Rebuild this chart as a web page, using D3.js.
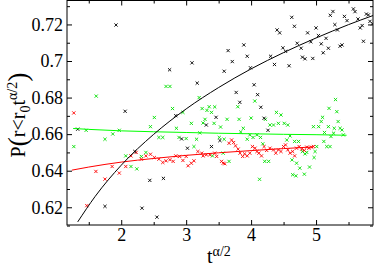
<!DOCTYPE html>
<head>
    <meta charset="utf-8">
    <script src="https://cdn.jsdelivr.net/npm/d3@7"></script>
    <style>
        body { margin: 0; background: #fff; }
        text { font-family: "Liberation Serif", "Times New Roman", serif; }
    </style>
</head>
<body>
<div id="container"></div>
<script>

    // scatter points, [t^(a/2), P]
    const blackPts = [[1.33,0.6627],[1.75,0.6205],[1.92,0.7197],[2.06,0.6725],[2.21,0.6505],[2.32,0.6195],[2.44,0.6347],
        [2.55,0.6146],[2.65,0.6358],[2.745,0.6952],[2.84,0.6701],[2.93,0.6574],[3.02,0.6523],[3.09,0.6990],[3.17,0.6879],
        [3.31,0.6650],[3.39,0.6532],[3.46,0.6692],[3.52,0.6565],[3.585,0.6944],[3.646,0.7057],[3.71,0.6997],[3.77,0.6828],
        [3.826,0.6774],[3.888,0.7088],[3.94,0.7026],[3.99,0.6963],[4.046,0.6870],[4.10,0.6816],[4.15,0.6747],[4.20,0.6687],
        [4.26,0.6621],[4.30,0.7026],[4.36,0.6981],[4.40,0.7170],[4.44,0.7154],[4.49,0.7072],[4.53,0.7053],[4.585,0.6974],
        [4.626,0.7239],[4.667,0.7190],[4.71,0.7097],[4.77,0.7070],[4.79,0.7021],[4.83,0.7012],[4.87,0.7154],[4.92,0.7105],
        [4.95,0.7014],[5.0,0.7181],[5.037,0.7139],[5.08,0.7094],[5.11,0.7045],[5.154,0.7124],[5.19,0.7070],[5.22,0.7250],
        [5.26,0.7271],[5.29,0.7199],[5.33,0.7170],[5.37,0.7081],[5.40,0.7088],[5.437,0.7244],[5.477,0.7221],[5.575,0.7285],
        [5.60,0.7270],[5.646,0.7230],[5.68,0.7181],[5.71,0.7194],[5.73,0.7108],[5.775,0.7257],[5.806,0.7252],[5.83,0.7217],
        [5.87,0.7203]];

    const redPts = [[1.27,0.6716],[1.47,0.6209],[1.61,0.6396],[1.75,0.6354],[1.86,0.6423],[1.97,0.6387],[2.07,0.6423],
        [2.15,0.6481],[2.23,0.6500],[2.31,0.6463],[2.38,0.6481],[2.45,0.6490],[2.51,0.6472],[2.58,0.6463],[2.64,0.6445],
        [2.69,0.6454],[2.75,0.6460],[2.8,0.6451],[2.84,0.6481],[2.90,0.6478],[2.95,0.6456],[3.0,0.6478],[3.03,0.6427],
        [3.08,0.6441],[3.12,0.6454],[3.18,0.6505],[3.24,0.6496],[3.26,0.6481],[3.31,0.6487],[3.365,0.6487],[3.44,0.6496],
        [3.47,0.6478],[3.545,0.6451],[3.57,0.6441],[3.595,0.6438],[3.66,0.6550],[3.70,0.6568],[3.73,0.6554],[3.76,0.6536],
        [3.80,0.6518],[3.83,0.6496],[3.87,0.6478],[3.90,0.6492],[3.94,0.6481],[3.98,0.6496],[4.02,0.6532],[4.06,0.6523],
        [4.09,0.6505],[4.12,0.6496],[4.16,0.6481],[4.20,0.6532],[4.24,0.6511],[4.29,0.6523],[4.345,0.6514],[4.38,0.6496],
        [4.42,0.6514],[4.46,0.6505],[4.50,0.6532],[4.53,0.6541],[4.565,0.6514],[4.60,0.6496],[4.64,0.6505],[4.67,0.6481],
        [4.70,0.6523],[4.74,0.6532],[4.78,0.6518],[4.82,0.6511],[4.857,0.6529],[4.89,0.6523],[4.93,0.6529],[4.96,0.6532]];

    const greenPts = [[1.27,0.6532],[1.46,0.6621],[1.615,0.6808],[1.75,0.6572],[1.87,0.6601],[1.97,0.6621],[2.07,0.6481],
        [2.15,0.6423],[2.24,0.6410],[2.31,0.6478],[2.38,0.6500],[2.45,0.6641],[2.51,0.6691],[2.58,0.6582],[2.64,0.6582],
        [2.69,0.6861],[2.75,0.6861],[2.79,0.6740],[2.85,0.6632],[2.89,0.6582],[2.95,0.6719],[3.0,0.6576],[3.08,0.6659],
        [3.12,0.6532],[3.16,0.6572],[3.2,0.6800],[3.21,0.6607],[3.246,0.6740],[3.26,0.6661],[3.29,0.6681],[3.32,0.6730],
        [3.354,0.6750],[3.39,0.6719],[3.405,0.6481],[3.43,0.6659],[3.44,0.6749],[3.51,0.6582],[3.53,0.6639],[3.57,0.6496],
        [3.585,0.6572],[3.63,0.6681],[3.66,0.6451],[3.795,0.6750],[3.815,0.6681],[3.84,0.6612],[3.88,0.6632],[3.94,0.6572],
        [3.98,0.6596],[4.0,0.6688],[4.03,0.6582],[4.057,0.6781],[4.09,0.6596],[4.13,0.6353],[4.145,0.6582],[4.18,0.6547],
        [4.21,0.6451],[4.22,0.6681],[4.27,0.6451],[4.29,0.6650],[4.345,0.6650],[4.39,0.6719],[4.42,0.6659],[4.46,0.6705],
        [4.51,0.6659],[4.55,0.6568],[4.565,0.6650],[4.60,0.6590],[4.63,0.6459],[4.64,0.6378],[4.67,0.6560],[4.69,0.6372],
        [4.70,0.6441],[4.73,0.6560],[4.75,0.6414],[4.79,0.6505],[4.82,0.6381],[4.83,0.6492],[4.857,0.6500],[4.90,0.6420],
        [4.96,0.6641],[4.97,0.6472],[4.985,0.6505],[5.01,0.6532],[5.04,0.6641],[5.08,0.6669],[5.10,0.6692],[5.12,0.6560],
        [5.13,0.6609],[5.165,0.6532],[5.19,0.6641],[5.2,0.6741],[5.215,0.6532],[5.23,0.6587],[5.27,0.6605],[5.28,0.6632],
        [5.30,0.6789],[5.32,0.6723],[5.34,0.6669],[5.37,0.6632],[5.40,0.6623],[5.42,0.6596]];

    // fitted curves, points
    const blackFitX = [1.33, 1.6, 2.0, 2.5, 3.0, 3.5, 4.0, 4.5, 5.0, 5.5, 5.88];
    const blackFitY = [0.612, 0.626, 0.643, 0.6599, 0.6738, 0.6855, 0.6957, 0.7046, 0.7126, 0.7199, 0.7249];
    const redFitX = [1.24, 1.5, 2.0, 2.5, 3.0, 3.5, 4.0, 4.5, 4.95];
    const redFitY = [0.6403, 0.642, 0.6447, 0.6467, 0.6484, 0.6498, 0.651, 0.6521, 0.653];
    const greenFitX = [1.26, 1.5, 2.0, 2.5, 3.0, 3.5, 4.0, 4.5, 5.0, 5.47];
    const greenFitY = [0.6631, 0.6626, 0.6618, 0.6613, 0.6609, 0.6605, 0.6602, 0.6599, 0.6597, 0.6594];

    const xMajor = [2, 3, 4, 5];
    const xMinor = [1.5, 2.5, 3.5, 4.5, 5.5];
    const yMajor = [0.62, 0.64, 0.66, 0.68, 0.70, 0.72];
    const yMinor = [0.61, 0.63, 0.65, 0.67, 0.69, 0.71, 0.73];
    const yLabels = ["0.62", "0.64", "0.66", "0.68", "0.7", "0.72"];

    const width = 374;
    const height = 268;
    const plotLeft = 67, plotRight = 373, plotTop = 0.5, plotBottom = 225;

    const svg = d3.select("#container")
        .append("svg")
        .attr("width", width)
        .attr("height", height);

    const x = d3.scaleLinear().domain([1.165, 5.877]).range([plotLeft, plotRight]);
    const y = d3.scaleLinear().domain([0.6103, 0.7331]).range([plotBottom, plotTop]);

    svg.append("clipPath").attr("id", "clip")
        .append("rect")
        .attr("x", plotLeft).attr("y", plotTop)
        .attr("width", plotRight - plotLeft).attr("height", plotBottom - plotTop);

    const plot = svg.append("g").attr("clip-path", "url(#clip)");

    // scatter crosses (small, thin, like the grace symbols)
    const cross = "M-1.6,-1.6L1.6,1.6M-1.6,1.6L1.6,-1.6";
    function drawPoints(pts, color) {
        plot.append("g").selectAll("path")
            .data(pts)
            .enter()
            .append("path")
            .attr("d", cross)
            .attr("transform", d => `translate(${x(d[0])},${y(d[1])})`)
            .attr("stroke", color)
            .attr("stroke-width", 0.9)
            .attr("fill", "none");
    }
    drawPoints(greenPts, "#00e000");
    drawPoints(redPts, "#ff0000");
    drawPoints(blackPts, "#000");

    // fit curves
    const line = d3.line()
        .x(d => x(d[0]))
        .y(d => y(d[1]))
        .curve(d3.curveMonotoneX);

    function drawFit(xs, ys, color) {
        plot.append("path")
            .datum(xs.map((v, i) => [v, ys[i]]))
            .attr("d", line)
            .attr("fill", "none")
            .attr("stroke", color)
            .attr("stroke-width", 1);
    }
    drawFit(greenFitX, greenFitY, "#00ff00");
    drawFit(redFitX, redFitY, "#ff0000");
    drawFit(blackFitX, blackFitY, "#000");

    // axes, ticks pointing inwards on all four sides
    function styleAxis(g) {
        g.select(".domain").remove();
        g.selectAll("line").attr("stroke", "#000");
        g.selectAll("text").attr("font-size", "18px").attr("fill", "#000")
            .style("font-family", "'Liberation Serif', serif");
    }

    svg.append("g").attr("transform", `translate(0,${plotBottom})`)
        .call(d3.axisBottom(x).tickValues(xMajor).tickSize(-5).tickPadding(3).tickFormat(d3.format("d")))
        .call(styleAxis);
    svg.append("g").attr("transform", `translate(0,${plotBottom})`)
        .call(d3.axisBottom(x).tickValues(xMinor).tickSize(-3).tickFormat(""))
        .call(styleAxis);
    svg.append("g").attr("transform", `translate(0,${plotTop})`)
        .call(d3.axisTop(x).tickValues(xMajor).tickSize(-5).tickFormat(""))
        .call(styleAxis);
    svg.append("g").attr("transform", `translate(0,${plotTop})`)
        .call(d3.axisTop(x).tickValues(xMinor).tickSize(-3).tickFormat(""))
        .call(styleAxis);

    svg.append("g").attr("transform", `translate(${plotLeft},0)`)
        .call(d3.axisLeft(y).tickValues(yMajor).tickSize(-5).tickPadding(4).tickFormat((d, i) => yLabels[i]))
        .call(styleAxis);
    svg.append("g").attr("transform", `translate(${plotLeft},0)`)
        .call(d3.axisLeft(y).tickValues(yMinor).tickSize(-3).tickFormat(""))
        .call(styleAxis);
    svg.append("g").attr("transform", `translate(${plotRight},0)`)
        .call(d3.axisRight(y).tickValues(yMajor).tickSize(-5).tickFormat(""))
        .call(styleAxis);
    svg.append("g").attr("transform", `translate(${plotRight},0)`)
        .call(d3.axisRight(y).tickValues(yMinor).tickSize(-3).tickFormat(""))
        .call(styleAxis);

    // frame
    svg.append("rect")
        .attr("x", plotLeft).attr("y", plotTop)
        .attr("width", plotRight - plotLeft).attr("height", plotBottom - plotTop)
        .attr("fill", "none")
        .attr("stroke", "#000")
        .attr("stroke-width", 1);

    // x label: t^(a/2)
    const xl = svg.append("text")
        .attr("x", 207).attr("y", 263)
        .attr("font-size", "20px");
    xl.append("tspan").text("t");
    xl.append("tspan").attr("font-size", "14px").attr("dy", -7).text("α/2");

    // y label: P(r<r0 t^(a/2))
    const yl = svg.append("text")
        .attr("transform", "translate(25,115) rotate(-90)")
        .attr("text-anchor", "middle")
        .attr("font-size", "20px");
    yl.append("tspan").text("P");
    yl.append("tspan").attr("font-size", "28px").attr("dy", 2).text("(");
    yl.append("tspan").attr("dy", -2).text("r<r");
    yl.append("tspan").attr("font-size", "14px").attr("dy", 5).text("0");
    yl.append("tspan").attr("dy", -5).text("t");
    yl.append("tspan").attr("font-size", "14px").attr("dy", -8).text("α/2");
    yl.append("tspan").attr("font-size", "28px").attr("dy", 10).text(")");

</script>
</body>
